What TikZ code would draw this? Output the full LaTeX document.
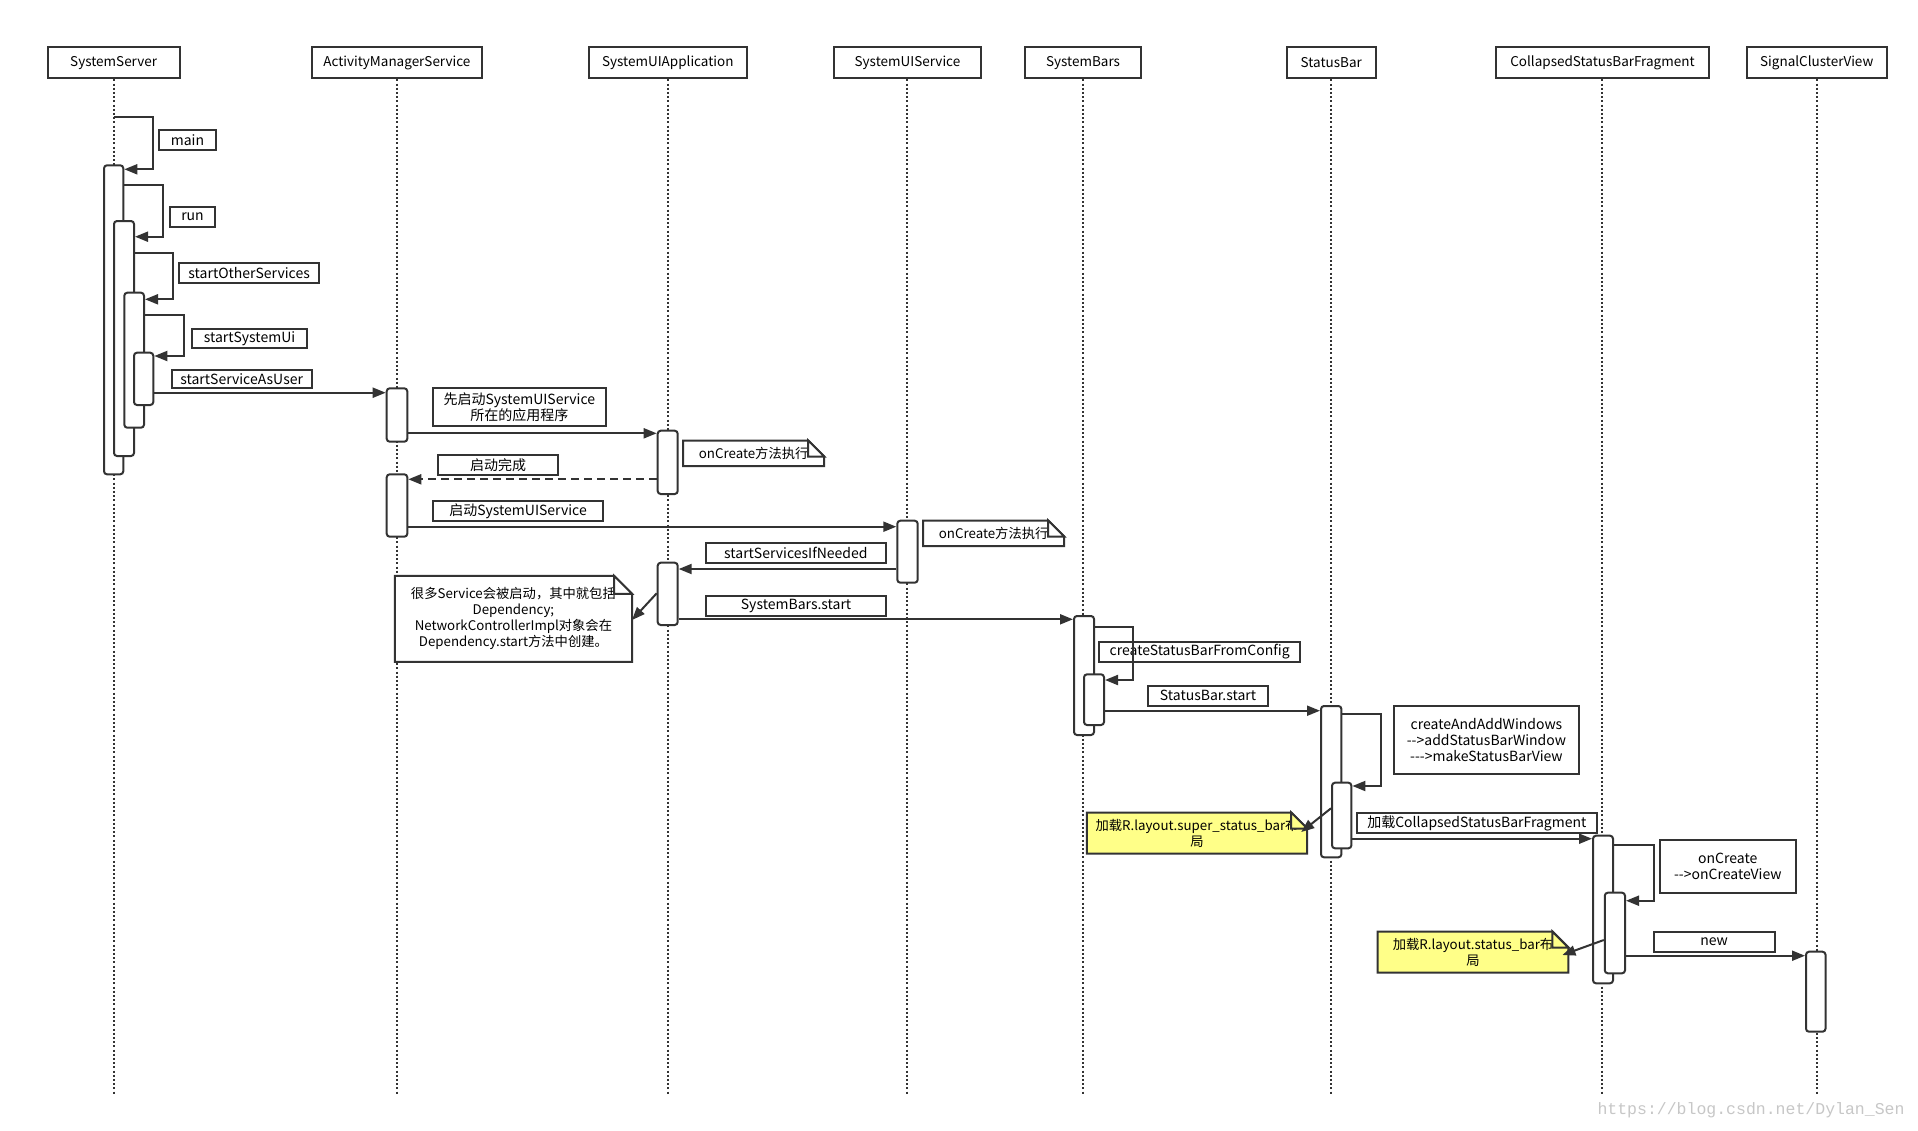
\documentclass[tikz,border=0pt]{standalone}
\usepackage{fontspec}
\setmainfont{Noto Sans CJK SC}
\newfontfamily\wmfont{Liberation Mono}
\usetikzlibrary{arrows.meta}
\definecolor{ink}{HTML}{333333}
\definecolor{noteyellow}{HTML}{FFFF88}
\newcommand\bx[7]{%
  \pgfmathsetmacro\bxcx{(#3+#5)/2}%
  \pgfmathsetmacro\bxcy{(#4+#6)/2}%
  \pgfmathsetmacro\bxw{#5-#3}%
  \pgfmathsetmacro\bxh{#6-#4}%
  \node[#1, minimum width=\bxw pt, minimum height=\bxh pt] (#2) at (\bxcx,\bxcy) {#7};}
\newcommand\notefold[3]{%
  \draw[draw=ink,line width=2pt,fill=#3,line join=miter]
    ([xshift=-#2pt]#1.north east) -- ([xshift=-#2pt,yshift=-#2pt]#1.north east) -- ([yshift=-#2pt]#1.north east) -- cycle;}
\newcommand\noteshape[3]{%
  \draw[draw=ink,line width=2pt,fill=#3,line join=miter]
    (#1.north west) -- ([xshift=-#2pt]#1.north east) -- ([yshift=-#2pt]#1.north east)
    -- (#1.south east) -- (#1.south west) -- cycle;}
\begin{document}
\begin{tikzpicture}[x=1pt,y=-1pt,
  base/.style={draw=ink, line width=2pt, inner sep=0pt},
  hdr/.style={base, fill=white, font=\fontsize{13.5}{16}\selectfont},
  act/.style={base, fill=white, rounded corners=3pt},
  lbl/.style={base, fill=white, align=center, font=\fontsize{14}{16}\selectfont},
  frame/.style={inner sep=0pt},
  notetext/.style={inner sep=0pt, align=center, font=\fontsize{13.3}{16}\selectfont},
  life/.style={draw=ink, line width=2pt, dash pattern=on 2pt off 2.2pt},
  msg/.style={draw=ink, line width=2pt, -{Triangle[length=13pt,width=10pt]}},
  ret/.style={msg, dash pattern=on 8pt off 5pt},
]
\fill[white] (0,0) rectangle (1918,1130);
\useasboundingbox (0,0) rectangle (1918,1130);

% ---------- headers ----------
\bx{hdr}{hSS}{47.8}{47.3}{179.5}{78.3}{SystemServer}
\bx{hdr}{hAMS}{311.6}{47.3}{482.1}{78.3}{ActivityManagerService}
\bx{hdr}{hSUA}{589}{47.3}{746.6}{78.3}{SystemUIApplication}
\bx{hdr}{hSVC}{833.6}{47.3}{981.3}{78.3}{SystemUIService}
\bx{hdr}{hSB}{1024.8}{47.3}{1141.3}{78.3}{SystemBars}
\bx{hdr}{hST}{1286.6}{47.3}{1376}{78.3}{StatusBar}
\bx{hdr}{hCF}{1496.4}{47.3}{1708.5}{78.3}{CollapsedStatusBarFragment}
\bx{hdr}{hSIG}{1747}{47.3}{1886.5}{78.3}{SignalClusterView}

% ---------- lifelines ----------
\foreach \hn in {hSS,hAMS,hSUA,hSVC,hSB,hST,hCF,hSIG}{
  \coordinate (\hn-end) at (\hn.south |- 0,1095);
  \draw[life] (\hn.south) -- (\hn-end);
}

% ---------- activations ----------
\bx{act}{a1}{104}{165.3}{123.3}{474.3}{}
\bx{act}{a2}{114}{221}{134}{456}{}
\bx{act}{a3}{124.3}{292.7}{144}{427.7}{}
\bx{act}{a4}{134}{352.7}{153.3}{405}{}
\bx{act}{amsA}{386.7}{388.3}{407.3}{441.7}{}
\bx{act}{amsB}{386.7}{474.3}{407.3}{536.7}{}
\bx{act}{suiA}{657.7}{430.7}{677.7}{494}{}
\bx{act}{suiB}{657.7}{562.7}{677.7}{625}{}
\bx{act}{svc}{897.3}{520.7}{917.7}{582.7}{}
\bx{act}{sb}{1074}{616}{1094}{735}{}
\bx{act}{sbB}{1084}{674.3}{1104}{725}{}
\bx{act}{stA}{1321}{706}{1341.4}{857.3}{}
\bx{act}{stB}{1332}{782.7}{1351.4}{848.3}{}
\bx{act}{cfA}{1593}{835.7}{1613}{983.3}{}
\bx{act}{cfB}{1604.8}{892.7}{1625}{973.3}{}
\bx{act}{sig}{1806}{951.7}{1825.5}{1031.7}{}

% ---------- message labels ----------
\bx{lbl}{lMain}{159}{130}{216}{150}{main}
\bx{lbl}{lRun}{170}{206.7}{215}{226.7}{run}
\bx{lbl}{lOther}{179}{263.3}{319.3}{283.3}{startOtherServices}
\bx{lbl}{lSysUi}{191.7}{329.3}{307.3}{348.3}{startSystemUi}
\bx{lbl}{lAsUser}{171.7}{370}{311.7}{388.3}{startServiceAsUser}
\bx{lbl}{lApp}{432.7}{388.3}{606}{425.7}{先启动SystemUIService\\所在的应用程序}
\bx{lbl}{lDone}{437.7}{455}{558.3}{475}{启动完成}
\bx{lbl}{lSvc}{432.7}{501}{603.3}{521}{启动SystemUIService}
\bx{lbl}{lIfNeeded}{705.7}{542.7}{886}{562.7}{startServicesIfNeeded}
\bx{lbl}{lSbStart}{705.7}{596}{886.4}{616}{SystemBars.start}
\bx{lbl}{lCfg}{1099.3}{641.7}{1300}{662.3}{createStatusBarFromConfig}
\bx{lbl}{lStStart}{1147.7}{686}{1268.3}{705.7}{StatusBar.start}
\bx{lbl}{lWin}{1394.3}{705.7}{1578.6}{774}{createAndAddWindows\\{-}{-}>addStatusBarWindow\\{-}{-}{-}>makeStatusBarView}
\bx{lbl}{lFrag}{1356.8}{813.3}{1596.8}{832.7}{加载CollapsedStatusBarFragment}
\bx{lbl}{lOnCreate}{1659.6}{840}{1796}{892.7}{onCreate\\{-}{-}>onCreateView}
\bx{lbl}{lNew}{1653.6}{931.7}{1774.6}{951.7}{new}

% ---------- messages ----------
\draw[msg] (hSS.south |- 0,117.3) -- (152.7,117.3) -- (152.7,169.3) -- (a1.east |- 0,169.3);
\draw[msg] (a1.east |- 0,185) -- (163.3,185) -- (163.3,236.7) -- (a2.east |- 0,236.7);
\draw[msg] (a2.east |- 0,253.3) -- (172.7,253.3) -- (172.7,299.3) -- (a3.east |- 0,299.3);
\draw[msg] (a3.east |- 0,315) -- (184,315) -- (184,356) -- (a4.east |- 0,356);
\draw[msg] (a4.east |- 0,392.7) -- (amsA.west |- 0,392.7);
\draw[msg] (amsA.east |- 0,433.3) -- (suiA.west |- 0,433.3);
\draw[ret] (suiA.west |- 0,479.3) -- (amsB.east |- 0,479.3);
\draw[msg] (amsB.east |- 0,526.7) -- (svc.west |- 0,526.7);
\draw[msg] (svc.west |- 0,569) -- (suiB.east |- 0,569);
\draw[msg] (suiB.east |- 0,619.3) -- (sb.west |- 0,619.3);
\draw[msg] (sb.east |- 0,627.3) -- (1133.3,627.3) -- (1133.3,680) -- (sbB.east |- 0,680);
\draw[msg] (sbB.east |- 0,710.7) -- (stA.west |- 0,710.7);
\draw[msg] (stA.east |- 0,714) -- (1381,714) -- (1381,786) -- (stB.east |- 0,786);
\draw[msg] (stB.east |- 0,838.7) -- (cfA.west |- 0,838.7);
\draw[msg] (cfA.east |- 0,845) -- (1654,845) -- (1654,900.7) -- (cfB.east |- 0,900.7);
\draw[msg] (cfB.east |- 0,955.7) -- (sig.west |- 0,955.7);

% ---------- notes ----------
\bx{frame}{nA}{683.3}{440.7}{824}{466}{}
\noteshape{nA}{16}{white}
\node[notetext] (nAt) at (nA.center) {onCreate方法执行};
\notefold{nA}{16}{white}

\bx{frame}{nB}{923.3}{520.7}{1064}{546}{}
\noteshape{nB}{16}{white}
\node[notetext] (nBt) at (nB.center) {onCreate方法执行};
\notefold{nB}{16}{white}

\bx{frame}{nDep}{395}{576}{631.8}{661.7}{}
\noteshape{nDep}{18}{white}
\node[notetext] (nDept) at (nDep.center) {很多Service会被启动，其中就包括\\Dependency;\\NetworkControllerImpl对象会在\\Dependency.start方法中创建。};
\notefold{nDep}{18}{white}

\bx{frame}{nSup}{1087}{812.7}{1307}{853.3}{}
\noteshape{nSup}{16}{noteyellow}
\node[notetext] (nSupt) at (nSup.center) {加载R.layout.super\_status\_bar布\\局};
\notefold{nSup}{16}{noteyellow}

\bx{frame}{nSt}{1377.8}{931.7}{1568.2}{972.3}{}
\noteshape{nSt}{16}{noteyellow}
\node[notetext] (nStt) at (nSt.center) {加载R.layout.status\_bar布\\局};
\notefold{nSt}{16}{noteyellow}

% note connectors
\draw[msg] (suiB.west |- 0,593.3) -- (nDep.east |- 0,620);
\draw[msg] (stB.west |- 0,808.3) -- ([xshift=-6pt]nSup.east |- 0,832);
\draw[msg] (cfB.west |- 0,940) -- ([xshift=-6pt]nSt.east |- 0,955);

% ---------- watermark ----------
\node[font=\wmfont\fontsize{16.5}{18}\selectfont, text=black!22, inner sep=0pt] (wm) at (1751,1110) {https://blog.csdn.net/Dylan\_Sen};
\end{tikzpicture}
\end{document}
